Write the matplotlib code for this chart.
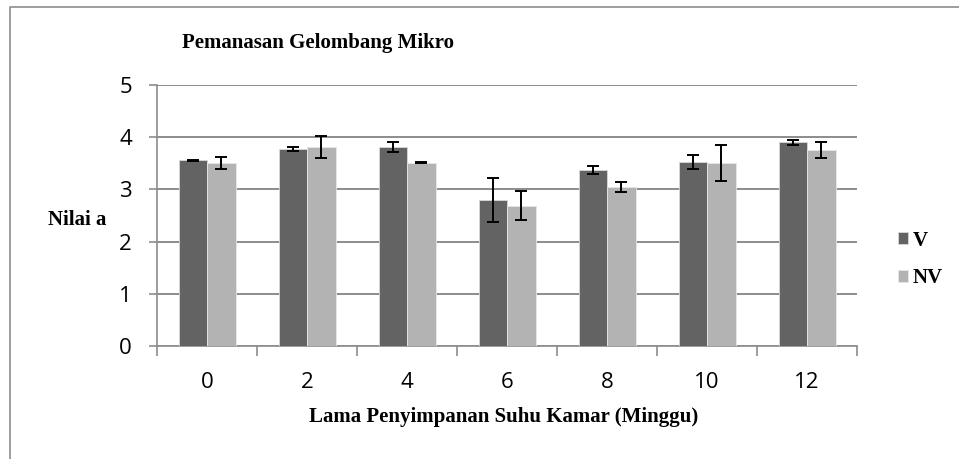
import matplotlib.pyplot as plt
import matplotlib.lines as mlines
import numpy as np

# data
weeks = ['0', '2', '4', '6', '8', '10', '12']
v_mean = [3.56, 3.78, 3.81, 2.80, 3.37, 3.53, 3.90]
v_err = [0.01, 0.04, 0.09, 0.42, 0.08, 0.13, 0.045]
nv_mean = [3.51, 3.81, 3.51, 2.69, 3.05, 3.51, 3.76]
nv_err = [0.11, 0.21, 0.01, 0.27, 0.10, 0.34, 0.15]

W, H = 959, 459
fig = plt.figure(figsize=(W / 100, H / 100), dpi=100)

# chart border: only top and left edges are inside the picture
border = mlines.Line2D([10 / W, 10 / W, 1.0], [0.0, 1 - 7 / H, 1 - 7 / H],
                       transform=fig.transFigure, color='#8c8c8c', linewidth=1.2)
fig.lines.append(border)

ax = fig.add_axes([157 / W, (H - 346) / H, 700 / W, 261 / H])

x = np.arange(len(weeks))
bw = 0.285
err_kw = dict(ecolor='black', elinewidth=1.4, capsize=4.3, capthick=1.4)
ax.bar(x - bw / 2, v_mean, bw, yerr=v_err, color='#636363', edgecolor='#d9d9d9',
       linewidth=0.6, label='V', error_kw=err_kw, zorder=3)
ax.bar(x + bw / 2, nv_mean, bw, yerr=nv_err, color='#b3b3b3', edgecolor='#e6e6e6',
       linewidth=0.6, label='NV', error_kw=err_kw, zorder=3)

ax.set_xlim(-0.5, len(weeks) - 0.5)
ax.set_ylim(0, 5)
ax.set_yticks(range(6))
ax.yaxis.grid(True, color='#8c8c8c', linewidth=1.4, zorder=0)

# boundary ticks without labels, labels at category centres
ax.set_xticks(np.arange(-0.5, len(weeks), 1.0))
ax.set_xticklabels([])
ax.set_xticks(x, minor=True)
ax.set_xticklabels(weeks, minor=True, fontsize=16, family='Open Sans')
ax.tick_params(axis='x', which='major', length=7, width=1.2, color='#8c8c8c', direction='out')
ax.tick_params(axis='x', which='minor', length=0, pad=18.5)
ax.tick_params(axis='y', length=6, width=1.2, color='#8c8c8c', pad=12, labelsize=16)
for lbl in ax.get_yticklabels():
    lbl.set_family('Open Sans')

for side in ['top', 'right']:
    ax.spines[side].set_visible(False)
for side in ['left', 'bottom']:
    ax.spines[side].set_color('#8c8c8c')
    ax.spines[side].set_linewidth(1.2)

serif = dict(family='Liberation Serif', fontweight='bold', fontsize=15, va='baseline')
fig.text(182 / W, 1 - 48 / H, 'Pemanasan Gelombang Mikro', **serif)
fig.text(48 / W, 1 - 225 / H, 'Nilai a', **serif)
fig.text(504 / W, 1 - 422 / H, 'Lama Penyimpanan Suhu Kamar (Minggu)', ha='center', **serif)

leg = ax.legend(loc='center left', bbox_to_anchor=(898 / W, 1 - 259.5 / H),
                bbox_transform=fig.transFigure, frameon=False,
                prop={'family': 'Liberation Serif', 'weight': 'bold', 'size': 15},
                handlelength=0.5, handleheight=0.5, handletextpad=0.2, labelspacing=0.85,
                borderpad=0, borderaxespad=0)

fig.savefig('out.png', dpi=100)
